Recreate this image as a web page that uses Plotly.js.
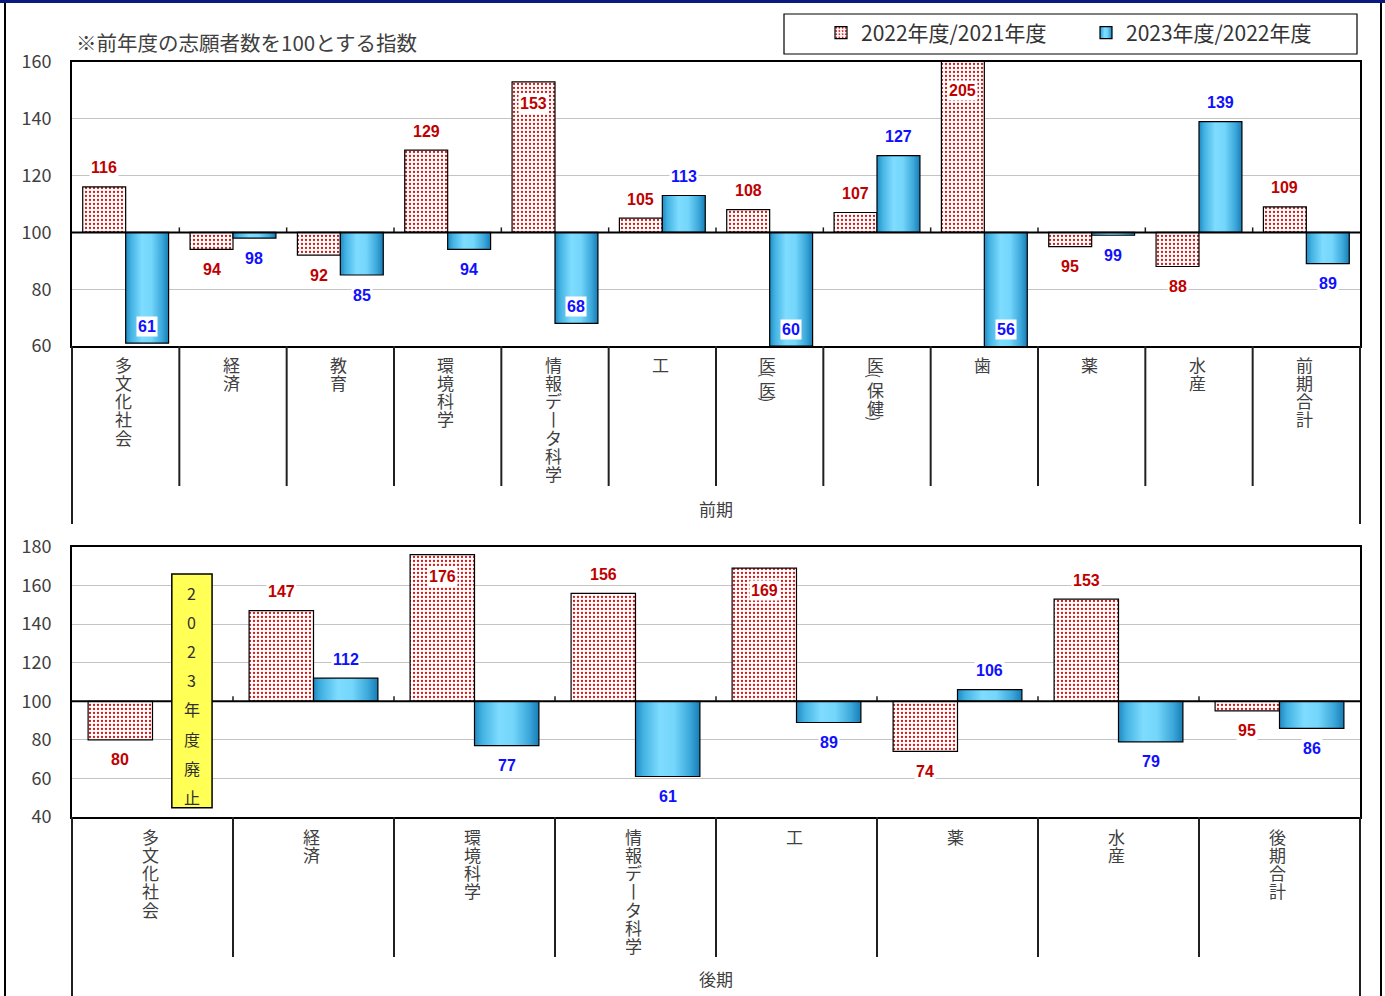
<!DOCTYPE html>
<html><head><meta charset="utf-8">
<script src="https://cdn.plot.ly/plotly-3.0.1.min.js"></script>
<style>html,body{margin:0;padding:0;background:#fff;} #chart{width:1385px;height:996px;}</style>
</head><body><div id="chart"></div>
<script>
// ---------- data ----------
const zenkiCategories = ['多文化社会','経済','教育','環境科学','情報データ科学','工','医(医)','医(保健)','歯','薬','水産','前期合計'];
const zenki2022 = [116,94,92,129,153,105,108,107,205,95,88,109];
const zenki2023 = [61,98,85,94,68,113,60,127,56,99,139,89];
const kokiCategories = ['多文化社会','経済','環境科学','情報データ科学','工','薬','水産','後期合計'];
const koki2022 = [80,147,176,156,169,74,153,95];
const koki2023 = [null,112,77,61,89,106,79,86];
const seriesNames = ['2022年度/2021年度','2023年度/2022年度'];
const topTicks = [60,80,100,120,140,160];
const bottomTicks = [40,60,80,100,120,140,160,180];
const noteText = '※前年度の志願者数を100とする指数';
const abolishedText = '2023年度廃止';
const groupLabels = ['前期','後期'];

// ---------- layout constants ----------
const W = 1385, H = 996;
const PL = 72, PR = 1360;
const T1 = 62, B1 = 346, T2 = 547, B2 = 817;
const R1 = [60,160], R2 = [40,180];
const BASE = 100;
const px = x => x / W;
const py = y => 1 - y / H;
const FONT = 'Noto Sans CJK JP, Noto Sans, sans-serif';
const RED = '#c00000', BLUE = '#1010ff';

function redMarker(){ return {color:'#ffffff', line:{color:'#000', width:1.2},
  pattern:{shape:'.', fgcolor:'#d01818', bgcolor:'#ffffff', size:4, solidity:0.26}}; }
function blueMarker(){ return {color:'#55c6ef', line:{color:'#000', width:1.2}}; }

function bars(cats, vals, xa, ya, name, marker, showlegend, meta){
  return {type:'bar', name:name, x:cats, y:vals.map(v => v == null ? null : v - BASE), base:BASE,
    xaxis:xa, yaxis:ya, marker:marker, showlegend:showlegend, legendgroup:name, meta:meta,
    hoverinfo:'skip', cliponaxis:true};
}

const data = [
  bars(zenkiCategories, zenki2022, 'x', 'y', seriesNames[0], redMarker(), true, 'red'),
  bars(zenkiCategories, zenki2023, 'x', 'y', seriesNames[1], blueMarker(), true, 'blue'),
  bars(kokiCategories, koki2022, 'x2', 'y2', seriesNames[0], redMarker(), false, 'red'),
  bars(kokiCategories, koki2023, 'x2', 'y2', seriesNames[1], blueMarker(), false, 'blue')
];

const annotations = [];
const shapes = [];

function valueLabels(vals, side, xref, yref, range, top, bottom, color){
  const ppu = (bottom - top) / (range[1] - range[0]);
  vals.forEach((v, i) => {
    if (v == null) return;
    const up = v >= BASE;
    const outOff = up ? 19 : 20;
    const outCenter = up ? v + outOff / ppu : v - outOff / ppu;
    const inside = up ? (outCenter > range[1] - 12 / ppu) : (outCenter < range[0] + 12 / ppu);
    const clipped = up ? v > range[1] : v < range[0];
    const yv = up ? Math.min(v, range[1]) : Math.max(v, range[0]);
    const shift = inside ? (up ? (clipped ? -28 : -22) : 17) : (up ? outOff : -outOff);
    annotations.push({xref:xref, yref:yref, x:i + side * 0.2, y:yv, yshift:shift,
      text:'<b>' + v + '</b>', showarrow:false, xanchor:'center', yanchor:'middle',
      font:{family:'Liberation Sans, Arial, sans-serif', size:16, color:color},
      bgcolor:'#ffffff', borderpad:1});
  });
}
valueLabels(zenki2022, -1, 'x', 'y', R1, T1, B1, RED);
valueLabels(zenki2023, 1, 'x', 'y', R1, T1, B1, BLUE);
valueLabels(koki2022, -1, 'x2', 'y2', R2, T2, B2, RED);
valueLabels(koki2023, 1, 'x2', 'y2', R2, T2, B2, BLUE);

function verticalLabels(cats, xref, startY){
  cats.forEach((c, i) => {
    let y = startY;
    let prevParen = false;
    Array.from(c).forEach((ch, k) => {
      const isParen = (ch === '(' || ch === ')');
      if (k > 0) y += isParen ? 11 : (prevParen ? 14 : 18.3);
      let t = ch, angle = 0, size = 17;
      if (isParen) { angle = 90; size = 15; }
      else if (ch === 'ー') { t = '丨'; }
      annotations.push({xref:xref, yref:'paper', x:i, y:py(y), xshift:-2, text:t, showarrow:false,
        textangle:angle, xanchor:'center', yanchor:'middle', font:{family:FONT, size:size, color:'#404040'}});
      prevParen = isParen;
    });
  });
}
verticalLabels(zenkiCategories, 'x', B1 + 18);
verticalLabels(kokiCategories, 'x2', B2 + 19);

// group labels
annotations.push({xref:'paper', yref:'paper', x:px((PL+PR)/2), y:py(508), text:groupLabels[0], showarrow:false,
  font:{family:FONT, size:17, color:'#404040'}});
annotations.push({xref:'paper', yref:'paper', x:px((PL+PR)/2), y:py(993), yanchor:'bottom', text:groupLabels[1], showarrow:false,
  font:{family:FONT, size:17, color:'#404040'}});
// note
annotations.push({xref:'paper', yref:'paper', x:px(74), y:py(42), text:noteText, showarrow:false,
  xanchor:'left', yanchor:'middle', font:{family:FONT, size:20.5, color:'#404040'}});

// dividers below plots
function dividers(n, xdom, ydom, top, innerBottom, outerBottom){
  for (let k = 0; k <= n; k++) {
    const f = k / n;
    const outer = (k === 0 || k === n);
    shapes.push({type:'line', xref:xdom, yref:'paper', x0:f, x1:f, y0:py(top), y1:py(outer ? outerBottom : innerBottom),
      line:{color:'#202020', width:2}});
    if (!outer) {
      shapes.push({type:'line', xref:xdom, yref:ydom, ysizemode:'pixel', yanchor:BASE,
        x0:f, x1:f, y0:0, y1:5, line:{color:'#202020', width:1.5}});
    }
  }
}
dividers(zenkiCategories.length, 'x domain', 'y', B1, 486, 524);
dividers(kokiCategories.length, 'x2 domain', 'y2', B2, 957, 996);

// base lines
shapes.push({type:'line', xref:'x domain', yref:'y', x0:0, x1:1, y0:BASE, y1:BASE, line:{color:'#000', width:2}});
shapes.push({type:'line', xref:'x2 domain', yref:'y2', x0:0, x1:1, y0:BASE, y1:BASE, line:{color:'#000', width:2}});

// abolished box
shapes.push({type:'rect', xref:'x2', yref:'y2', x0:0.12, x1:0.37, y0:166, y1:44.8,
  fillcolor:'#ffff55', line:{color:'#000', width:1.5}, layer:'above'});
Array.from(abolishedText).forEach((ch, k) => {
  annotations.push({xref:'x2', yref:'paper', x:0.245, y:py(593 + k * 29.1), text:ch, showarrow:false,
    xanchor:'center', yanchor:'middle', font:{family:FONT, size:16, color:'#303030'}});
});

// legend box
shapes.push({type:'rect', xref:'paper', yref:'paper', x0:px(784), x1:px(1357), y0:py(14), y1:py(54),
  line:{color:'#000', width:1.2}, fillcolor:'rgba(0,0,0,0)'});
// page frame
shapes.push({type:'rect', xref:'paper', yref:'paper', x0:0, x1:1, y0:py(0), y1:py(3), fillcolor:'#0a1a80', line:{width:0}});
shapes.push({type:'line', xref:'paper', yref:'paper', x0:px(5), x1:px(5), y0:py(3), y1:0, line:{color:'#000', width:2}});
shapes.push({type:'line', xref:'paper', yref:'paper', x0:px(1381), x1:px(1381), y0:py(3), y1:0, line:{color:'#000', width:2}});

function yaxis(range, ticks, top, bottom, anchor){
  return {range:range, tickvals:ticks, domain:[py(bottom), py(top)], anchor:anchor,
    showgrid:true, gridcolor:'#c4c4c4', gridwidth:1, zeroline:false,
    showline:true, linecolor:'#000', linewidth:2, mirror:true, ticks:'',
    ticklabelstandoff:15, tickfont:{family:FONT, size:18, color:'#404040'}, fixedrange:true};
}
function xaxis(anchor){
  return {type:'category', domain:[px(PL), px(PR)], anchor:anchor, showticklabels:false, showgrid:false,
    zeroline:false, showline:true, linecolor:'#000', linewidth:2, mirror:true, ticks:'', fixedrange:true};
}

const layout = {
  width:W, height:H, margin:{l:0, r:0, t:0, b:0}, paper_bgcolor:'#fff', plot_bgcolor:'#fff',
  font:{family:FONT, color:'#404040'},
  barmode:'group', bargap:0.2, bargroupgap:0,
  xaxis:xaxis('y'), yaxis:yaxis(R1, topTicks, T1, B1, 'x'),
  xaxis2:xaxis('y2'), yaxis2:yaxis(R2, bottomTicks, T2, B2, 'x2'),
  showlegend:true,
  legend:{orientation:'h', x:px(821), xanchor:'left', y:py(33), yanchor:'middle',
    font:{family:FONT, size:21, color:'#333'}, bgcolor:'rgba(0,0,0,0)', borderwidth:0,
    entrywidth:220, entrywidthmode:'pixels', traceorder:'normal'},
  annotations:annotations, shapes:shapes
};

Plotly.newPlot('chart', data, layout, {staticPlot:true, displayModeBar:false}).then(gd => {
  const ns = 'http://www.w3.org/2000/svg';
  const svg = gd.querySelector('.main-svg');
  let defs = svg.querySelector('defs');
  if (!defs) { defs = document.createElementNS(ns, 'defs'); svg.insertBefore(defs, svg.firstChild); }
  const lg = document.createElementNS(ns, 'linearGradient');
  lg.setAttribute('id', 'blueGrad');
  lg.setAttribute('x1', '0'); lg.setAttribute('y1', '0'); lg.setAttribute('x2', '1'); lg.setAttribute('y2', '0');
  [[0,'#2089c2'],[0.12,'#42b2e2'],[0.38,'#7edcff'],[0.6,'#74d6fb'],[0.85,'#3ba7da'],[1,'#187cb5']].forEach(s => {
    const st = document.createElementNS(ns, 'stop');
    st.setAttribute('offset', s[0]); st.setAttribute('stop-color', s[1]);
    lg.appendChild(st);
  });
  defs.appendChild(lg);
  gd.querySelectorAll('.barlayer .trace').forEach(g => {
    const cd = g.__data__; const tr = cd && cd[0] && cd[0].trace;
    if (tr && tr.meta === 'blue') g.querySelectorAll('path').forEach(p => { p.style.fill = 'url(#blueGrad)'; });
  });
  gd.querySelectorAll('.legend .traces').forEach(g => {
    const d = g.__data__; const tr = d && d[0] && d[0].trace;
    if (tr && tr.meta === 'blue') g.querySelectorAll('.legendpoints path').forEach(p => { p.style.fill = 'url(#blueGrad)'; });
  });
});
</script>
</body></html>
